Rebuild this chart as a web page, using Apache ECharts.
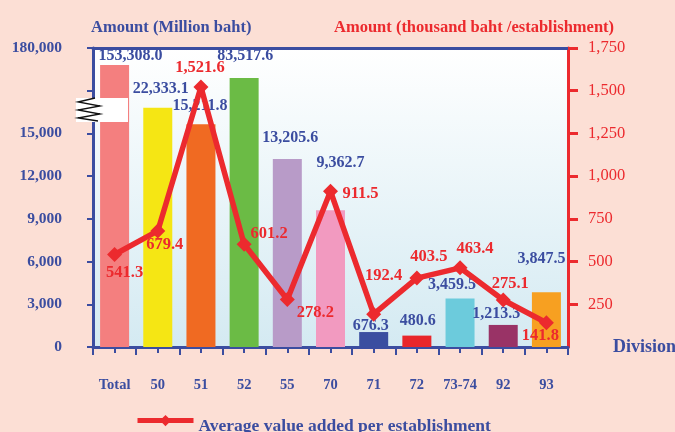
<!DOCTYPE html>
<html>
<head>
<meta charset="utf-8">
<script src="https://cdn.jsdelivr.net/npm/echarts@6/dist/echarts.min.js"></script>
<style>
  html, body { margin: 0; padding: 0; background: #fcdfd5; }
  #main { width: 675px; height: 432px; }
</style>
</head>
<body>
<div id="main"></div>
<script>
// categories (division codes)
var divisions = ['Total', '50', '51', '52', '55', '70', '71', '72', '73-74', '92', '93'];
// value added, million baht (label values)
var amountValues = [153308.0, 22333.1, 15211.8, 83517.6, 13205.6, 9362.7, 676.3, 480.6, 3459.5, 1213.3, 3847.5];
// bar heights as drawn on the broken left axis
var amountDrawn = [19800, 16800, 15650, 18900, 13200, 9600, 1050, 800, 3400, 1550, 3850];
// average value added per establishment, thousand baht
var avgValues = [541.3, 679.4, 1521.6, 601.2, 278.2, 911.5, 192.4, 403.5, 463.4, 275.1, 141.8];
// left axis tick labels (axis is broken above 15,000)
var leftTicks = ['0', '3,000', '6,000', '9,000', '12,000', '15,000', '', '180,000'];

var barColors = ['#f47f7f', '#f5e614', '#f06a22', '#6bbb45', '#b89bc8', '#f29ac0',
                 '#3a4ea0', '#e8262a', '#6ccbdc', '#993366', '#f7a021'];
var blue = '#3b4da0';
var red = '#ec2a2e';
var serif = 'Liberation Serif';

// label nudges so the numbers sit where they do in the original
var barLabelOffset = [[16, 4], [3, -6], [-1, -5], [1, -9], [3, -8], [10, -34],
                      [-3, 7], [1, -2], [-8, -1], [-7, 2], [-5, -20]];
var lineLabelOffset = [[10, 18], [7, 14], [-1, -19], [25, -11], [28, 13], [30, 2],
                       [10, -38], [12, -21], [15, -19], [7, -16], [-6, 13]];

function fmt1(v) {
  return v.toLocaleString('en-US', { minimumFractionDigits: 1, maximumFractionDigits: 1 });
}

var chart = echarts.init(document.getElementById('main'));

var barData = amountDrawn.map(function (v, i) {
  return {
    value: v,
    itemStyle: { color: barColors[i] },
    label: { offset: barLabelOffset[i], formatter: fmt1(amountValues[i]) }
  };
});

var lineData = avgValues.map(function (v, i) {
  return { value: v, label: { offset: lineLabelOffset[i], formatter: fmt1(v) } };
});

var option = {
  backgroundColor: '#fcdfd5',
  animation: false,
  title: [
    { text: 'Amount (Million baht)', left: 86, top: 14,
      textStyle: { color: blue, fontFamily: serif, fontWeight: 'bold', fontSize: 16.5 } },
    { text: 'Amount (thousand baht /establishment)', left: 329, top: 14,
      textStyle: { color: red, fontFamily: serif, fontWeight: 'bold', fontSize: 16.5 } }
  ],
  legend: {
    data: ['Average value added per establishment'],
    left: 130, top: 410,
    itemWidth: 56, itemHeight: 14,
    lineStyle: { width: 5 },
    formatter: '{t|{name}}',
    textStyle: {
      color: blue, fontFamily: serif, fontWeight: 'bold', fontSize: 17.5,
      rich: { t: { color: blue, fontFamily: serif, fontWeight: 'bold', fontSize: 17.5, padding: [12, 0, 0, 0] } }
    }
  },
  grid: {
    left: 93, right: 107, top: 48, bottom: 85,
    outerBoundsMode: 'none',
    containLabel: false,
    show: true,
    borderWidth: 0,
    backgroundColor: new echarts.graphic.LinearGradient(0, 0, 0, 1, [
      { offset: 0, color: '#ffffff' },
      { offset: 1, color: '#d4eaf2' }
    ])
  },
  xAxis: [
    {
      type: 'category', data: divisions, position: 'bottom',
      name: 'Division', nameLocation: 'end', nameGap: 45,
      nameTextStyle: { color: blue, fontFamily: serif, fontWeight: 'bold', fontSize: 18, verticalAlign: 'middle', padding: [8, 0, 0, 0] },
      axisLine: { lineStyle: { color: blue, width: 3 } },
      axisTick: { show: true, length: 8, lineStyle: { color: blue, width: 2 } },
      axisLabel: { color: blue, fontFamily: serif, fontWeight: 'bold', fontSize: 14.5, margin: 31, interval: 0 }
    },
    {
      type: 'category', data: divisions, position: 'bottom', gridIndex: 0,
      axisLine: { show: false },
      axisTick: { show: true, alignWithLabel: true, length: 6, lineStyle: { color: blue, width: 2 } },
      axisLabel: { show: false }
    },
    {
      type: 'category', data: divisions, position: 'top',
      axisLine: { lineStyle: { color: blue, width: 3 } },
      axisTick: { show: false },
      axisLabel: { show: false }
    }
  ],
  yAxis: [
    {
      type: 'value', min: 0, max: 21000, interval: 3000, position: 'left',
      splitLine: { show: false },
      axisLine: { show: true, lineStyle: { color: blue, width: 3 } },
      axisTick: { show: true, length: 6, lineStyle: { color: blue, width: 2 } },
      axisLabel: {
        color: blue, fontFamily: serif, fontWeight: 'bold', fontSize: 15.5, margin: 31,
        formatter: function (v) { return leftTicks[Math.round(v / 3000)]; }
      }
    },
    {
      type: 'value', min: 0, max: 1750, interval: 250, position: 'right',
      splitLine: { show: false },
      axisLine: { show: true, lineStyle: { color: red, width: 3 } },
      axisTick: { show: true, length: 10, lineStyle: { color: red, width: 3 } },
      axisLabel: {
        color: red, fontFamily: serif, fontSize: 16.5, margin: 20, showMinLabel: false,
        formatter: function (v) { return v.toLocaleString('en-US'); }
      }
    }
  ],
  series: [
    {
      name: 'Amount', type: 'bar', xAxisIndex: 0, yAxisIndex: 0,
      barWidth: 29,
      data: barData,
      label: {
        show: true, position: 'top', distance: 5,
        color: blue, fontFamily: serif, fontWeight: 'bold', fontSize: 16
      },
      z: 2
    },
    {
      name: 'Average value added per establishment', type: 'line',
      xAxisIndex: 0, yAxisIndex: 1,
      data: lineData,
      symbol: 'diamond', symbolSize: 15,
      lineStyle: { color: red, width: 5.5 },
      itemStyle: { color: red },
      label: {
        show: true, position: 'inside',
        color: red, fontFamily: serif, fontWeight: 'bold', fontSize: 16.5
      },
      z: 5
    }
  ],
  graphic: [
    {
      type: 'rect', z: 100,
      shape: { x: 76, y: 98, width: 52, height: 24 },
      style: { fill: '#ffffff' }
    },
    {
      type: 'polyline', z: 101,
      shape: { points: [[95, 98], [78, 102], [100, 106], [78, 110], [100, 114], [78, 118], [98, 121]] },
      style: { stroke: '#111111', lineWidth: 1.3, fill: null }
    }
  ]
};

chart.setOption(option);
</script>
</body>
</html>
